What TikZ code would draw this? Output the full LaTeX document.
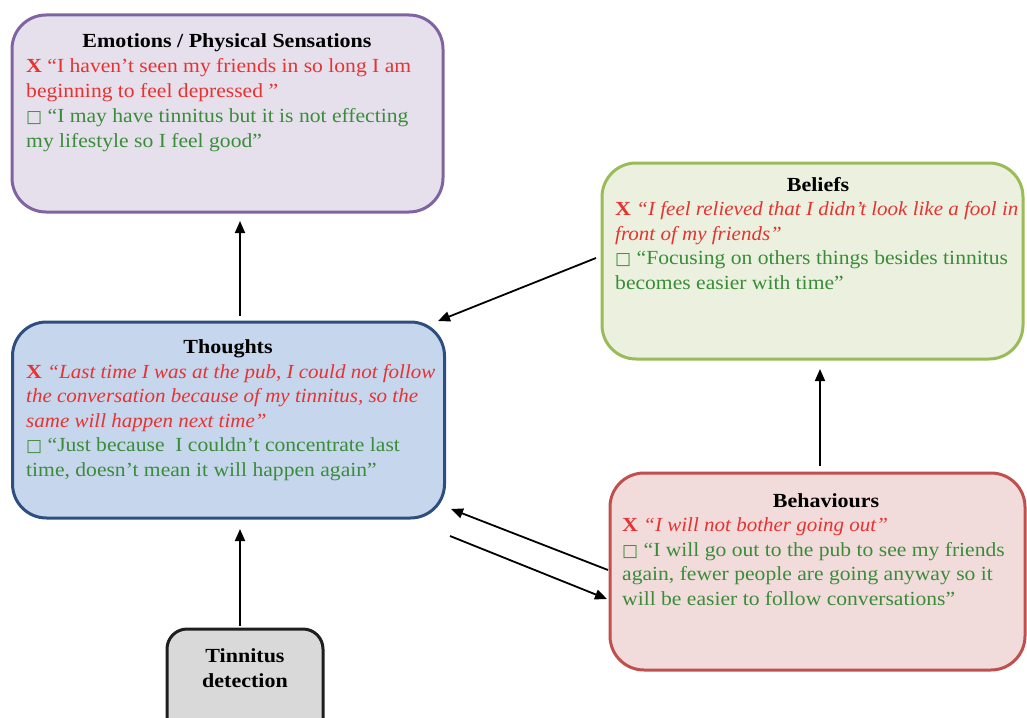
\documentclass[tikz,border=0pt]{standalone}
\usepackage{fontspec}
\setmainfont{Liberation Serif}[UprightFeatures={FakeStretch=1.08},BoldFeatures={FakeStretch=1.1},ItalicFeatures={FakeStretch=1.05},BoldItalicFeatures={FakeStretch=1.05}]
\newfontfamily\symfont{DejaVu Sans}
\usetikzlibrary{arrows.meta}
\definecolor{redtxt}{RGB}{232,50,50}
\definecolor{greentxt}{RGB}{58,140,58}
\definecolor{emoFill}{RGB}{229,224,236}
\definecolor{emoDraw}{RGB}{128,100,162}
\definecolor{thoFill}{RGB}{198,214,236}
\definecolor{thoDraw}{RGB}{47,78,128}
\definecolor{belFill}{RGB}{235,241,222}
\definecolor{belDraw}{RGB}{155,187,89}
\definecolor{behFill}{RGB}{242,220,219}
\definecolor{behDraw}{RGB}{192,80,77}
\definecolor{tinFill}{RGB}{217,217,217}
\definecolor{tinDraw}{RGB}{30,30,30}
\newcommand{\cross}{\textbf{X}}
\newcommand{\tofu}{{\symfont\fontsize{17}{17}\selectfont □}}
\tikzset{
  box/.style={rectangle, rounded corners=34pt, line width=3pt, inner sep=0pt},
  title/.style={anchor=base, inner sep=0pt, font=\fontsize{20}{24.5}\selectfont\bfseries},
  body/.style={anchor=base west, inner sep=0pt, font=\fontsize{20}{24.5}\selectfont},
  arr/.style={line width=1.8pt, -{Triangle[length=12pt,width=10pt]}},
}
\begin{document}
\begin{tikzpicture}[x=1pt,y=-1pt]
\useasboundingbox (0,0) rectangle (1027,717);
\clip (0,0) rectangle (1027,717);
% boxes
\node[box, draw=emoDraw, fill=emoFill, minimum width=431pt, minimum height=197pt] (emo) at (227.5,113.5) {};
\node[box, draw=thoDraw, fill=thoFill, minimum width=432pt, minimum height=196pt] (tho) at (228.5,420) {};
\node[box, draw=belDraw, fill=belFill, minimum width=421pt, minimum height=196pt] (bel) at (812.5,261) {};
\node[box, draw=behDraw, fill=behFill, minimum width=415pt, minimum height=197pt] (beh) at (817.5,571.5) {};
\node[box, rounded corners=20pt, draw=tinDraw, fill=tinFill, minimum width=156pt, minimum height=140pt] (tin) at (245,699) {};
% texts
\node[title] (emoT) at (227,48) {Emotions / Physical Sensations};
\node[body, text=redtxt] (emoR) at (26,73) {\parbox[t]{420pt}{\cross{} “I haven’t seen my friends in so long I am\\beginning to feel depressed ”}};
\node[body, text=greentxt] (emoG) at (26,122.5) {\parbox[t]{420pt}{\tofu{} “I may have tinnitus but it is not effecting\\my lifestyle so I feel good”}};
\node[title] (thoT) at (228,353) {Thoughts};
\node[body, text=redtxt] (thoR) at (26,378) {\parbox[t]{420pt}{\cross{} \itshape “Last time I was at the pub, I could not follow\\the conversation because of my tinnitus, so the\\same will happen next time”}};
\node[body, text=greentxt] (thoG) at (26,451.5) {\parbox[t]{420pt}{\tofu{} “Just because\ \ I couldn’t concentrate last\\time, doesn’t mean it will happen again”}};
\node[title] (belT) at (818,191) {Beliefs};
\node[body, text=redtxt] (belR) at (615,215.5) {\parbox[t]{420pt}{\cross{} \itshape “I feel relieved that I didn’t look like a fool in\\front of my friends”}};
\node[body, text=greentxt] (belG) at (615,264.5) {\parbox[t]{420pt}{\tofu{} “Focusing on others things besides tinnitus\\becomes easier with time”}};
\node[title] (behT) at (826,507) {Behaviours};
\node[body, text=redtxt] (behR) at (622,531.5) {\parbox[t]{420pt}{\cross{} \itshape “I will not bother going out”}};
\node[body, text=greentxt] (behG) at (622,556) {\parbox[t]{420pt}{\tofu{} “I will go out to the pub to see my friends\\again, fewer people are going anyway so it\\will be easier to follow conversations”}};
\node[title, align=center] (tinT) at (245,687) {Tinnitus\\detection};
% connector end points
\coordinate (a1s) at (240,316); \coordinate (a1e) at (240,221);
\coordinate (a2s) at (596,258); \coordinate (a2e) at (438,321);
\coordinate (a3s) at (820,466); \coordinate (a3e) at (820,369);
\coordinate (a4s) at (240,626); \coordinate (a4e) at (240,529);
\coordinate (a5s) at (608,570); \coordinate (a5e) at (451,509);
\coordinate (a6s) at (450,536); \coordinate (a6e) at (607,599);
\draw[arr] (a1s) -- (a1e);
\draw[arr] (a2s) -- (a2e);
\draw[arr] (a3s) -- (a3e);
\draw[arr] (a4s) -- (a4e);
\draw[arr] (a5s) -- (a5e);
\draw[arr] (a6s) -- (a6e);
\end{tikzpicture}
\end{document}
